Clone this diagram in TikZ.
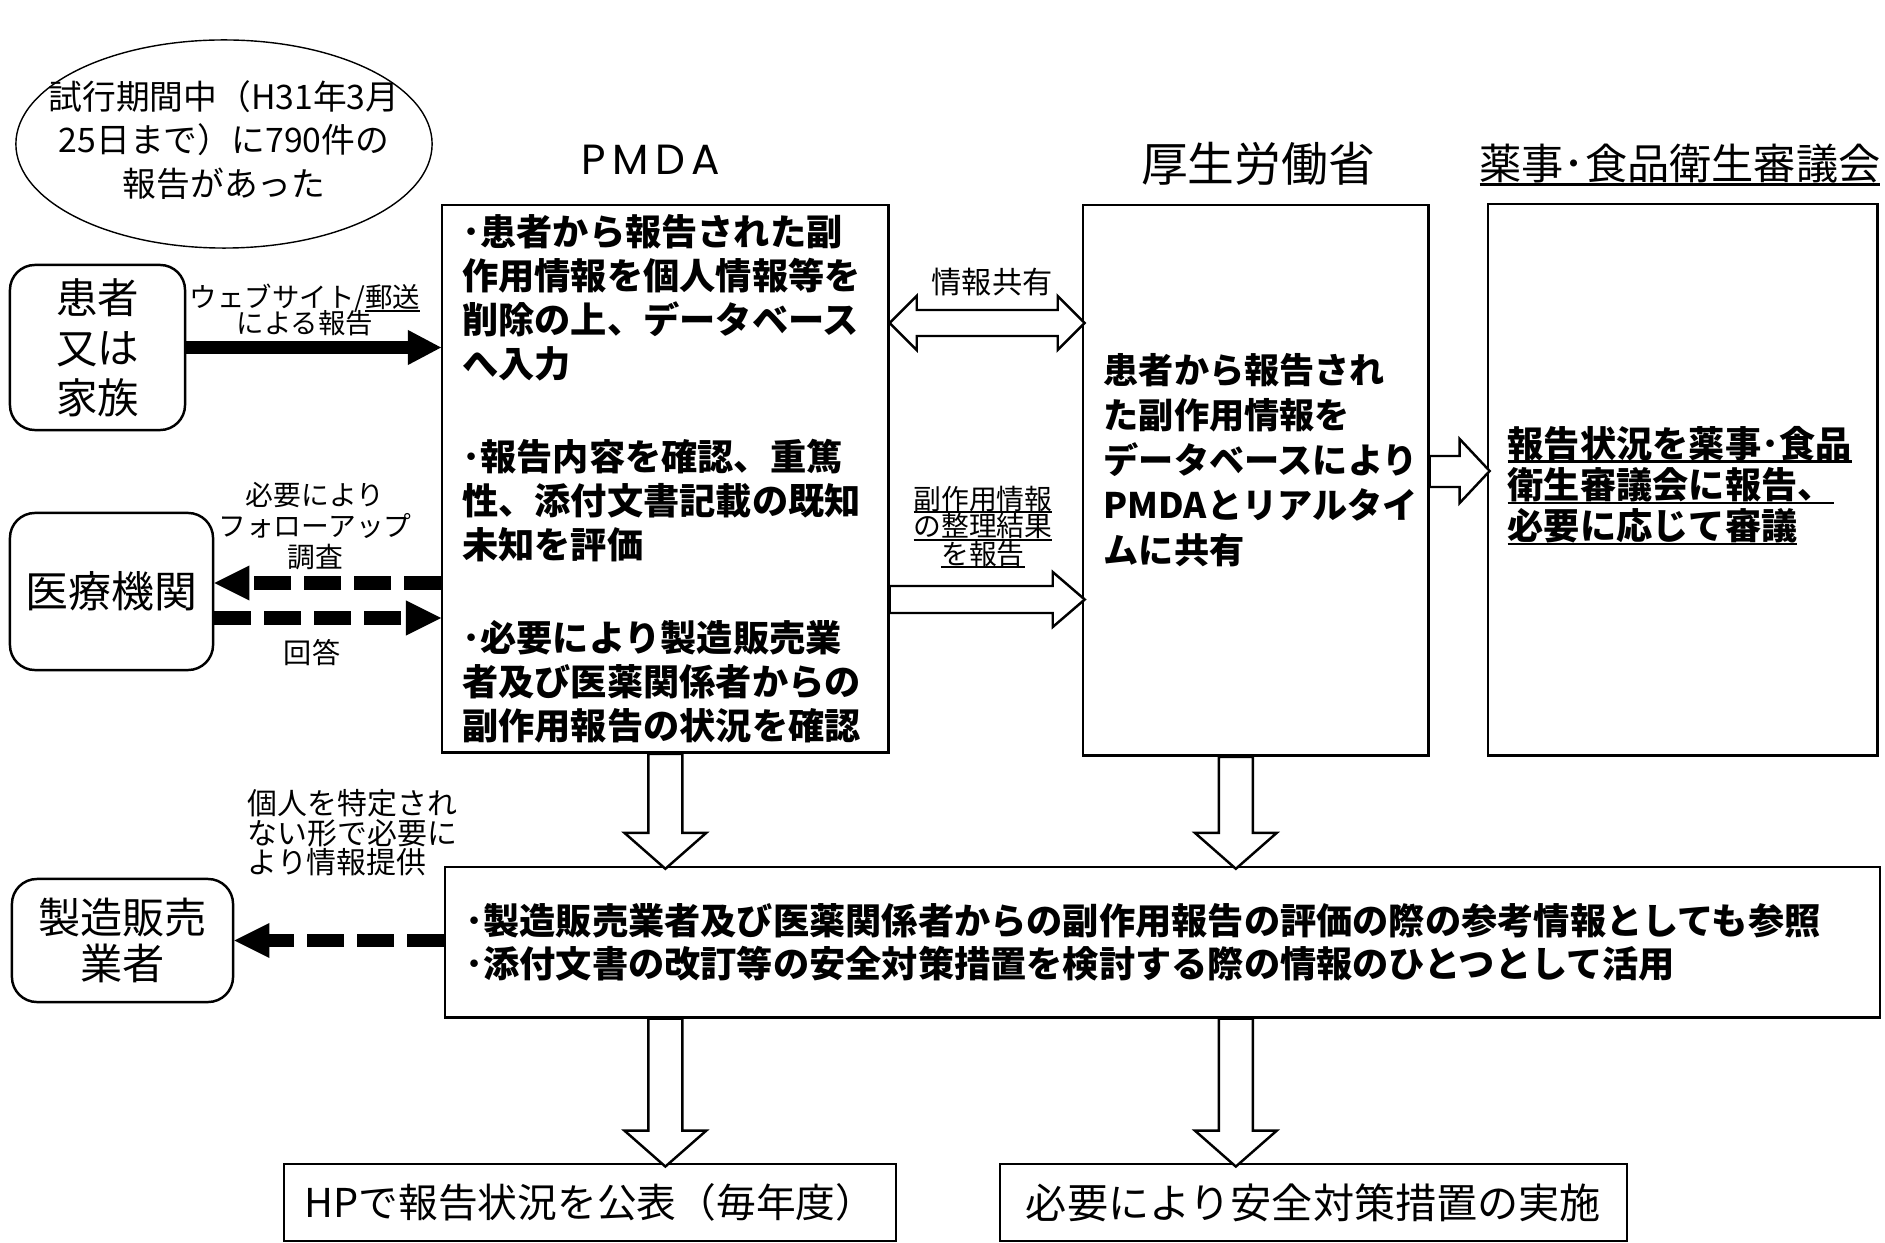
\documentclass[tikz,border=0pt]{standalone}
\usepackage{fontspec}
\setmainfont{Noto Sans CJK JP}
\newfontfamily\pmdafont{Poppins}[LetterSpace=15]
\usetikzlibrary{arrows.meta,calc}
\newcommand{\fs}[2]{\fontsize{#1pt}{#2pt}\selectfont\lineskiplimit=-20pt\relax}
\newcommand{\ul}[1]{\setbox0=\hbox{#1}\rlap{\vrule width\wd0 height -0.08em depth 0.15em}\box0}

\begin{document}
\begin{tikzpicture}[x=0.01cm,y=-0.01cm,
  box/.style={draw,line width=0.7pt,inner sep=0pt},
  party/.style={box,rounded corners=0.25cm,align=center,font=\fs{11.8}{13}},
  panel/.style={box,anchor=north west,inner xsep=0.2cm,align=left,font=\bfseries\fs{10.3}{12.5}},
  note/.style={inner sep=0pt,align=center,font=\fs{8.2}{7.3}},
  hollow/.style={draw,line width=0.7pt,fill=white},
  solidarrow/.style={line width=0.12cm,-{Triangle[length=0.33cm,width=0.35cm,line width=0pt]}},
  dasharrow/.style={line width=0.13cm,dash pattern=on 0.37cm off 0.13cm,-{Triangle[length=0.35cm,width=0.35cm,line width=0pt]}}]
\useasboundingbox (0,0) rectangle (1885,1243);

\node[note,font=\fs{9.6}{12.4}] (trial) at (224,140) {試行期間中（H31年3月\\25日まで）に790件の\\報告があった};
\draw[line width=0.4pt] (trial.center) ++(0,4) ellipse [x radius=2.08cm,y radius=1.04cm];

\node[font=\pmdafont\fs{12}{12}] (pmdatitle) at (651,160) {PMDA};
\node[font=\fs{13.3}{14}] (mhlwtitle) at (1258,164) {厚生労働省};
\node[font=\fs{12}{13}] (counciltitle) at (1680,165) {\ul{薬事･食品衛生審議会}};

\node[party,minimum width=1.75cm,minimum height=1.65cm,font=\fs{11.8}{14.2}] (patient) at (97.5,347.5) {患者\\又は\\家族};
\node[party,minimum width=2.03cm,minimum height=1.57cm,font=\fs{12.2}{13}] (inst) at (111.5,591.5) {医療機関};
\node[party,minimum width=2.21cm,minimum height=1.23cm,font=\fs{12}{13}] (maker) at (122.5,940.5) {製造販売\\業者};

\node[panel,text width=4.06cm,minimum height=5.47cm] (pmda) at (441,204) {･患者から報告された副\\作用情報を個人情報等を\\削除の上、データベース\\へ入力\\[14pt]
･報告内容を確認、重篤\\性、添付文書記載の既知\\未知を評価\\[14pt]
･必要により製造販売業\\者及び医薬関係者からの\\副作用報告の状況を確認};

\node[box,anchor=north west,minimum width=3.45cm,minimum height=5.5cm] (mhlw) at (1082,204) {};
\node[anchor=west,inner sep=0pt,align=left,font=\bfseries\fs{10}{12.8}] (mhlwtext) at ($(mhlw.west)+(21,-20)$) {患者から報告され\\た副作用情報を\\データベースにより\\PMDAとリアルタイ\\ムに共有};

\node[box,anchor=north west,minimum width=3.89cm,minimum height=5.51cm] (council) at (1487,203) {};
\node[anchor=west,inner sep=0pt,align=left,font=\bfseries\fs{10.3}{11.7}] (counciltext) at ($(council.west)+(20,6)$) {\ul{報告状況を薬事･食品}\\\ul{衛生審議会に報告、}\\\ul{必要に応じて審議}};

\node[panel,text width=13.94cm,minimum height=1.5cm,font=\bfseries\fs{10.3}{12}] (mid) at (444,866) {･製造販売業者及び医薬関係者からの副作用報告の評価の際の参考情報としても参照\\･添付文書の改訂等の安全対策措置を検討する際の情報のひとつとして活用};

\node[box,minimum width=6.12cm,minimum height=0.77cm,font=\fs{11.3}{12}] (hp) at (590,1202.5) {HPで報告状況を公表（毎年度）};
\node[box,minimum width=6.27cm,minimum height=0.77cm,font=\fs{11.7}{12}] (safety) at (1313.5,1202.5) {必要により安全対策措置の実施};

\coordinate (askrow) at (0,583);
\coordinate (answerrow) at (0,618);
\coordinate (sharerow) at (0,323);
\coordinate (sendrow) at (0,586);
\coordinate (councilrow) at (0,456);

\draw[solidarrow] (patient.east) -- (patient.east -| pmda.west);
\draw[dasharrow] (pmda.west |- askrow) -- (inst.east |- askrow);
\draw[dasharrow] (inst.east |- answerrow) -- (pmda.west |- answerrow);
\draw[dasharrow] (maker.east -| mid.west) -- (maker.east);

\draw[hollow] (pmda.east |- sharerow) -- ++(27,-27) -- ++(0,14) -- ++(141,0) -- ++(0,-14) -- ++(27,27) -- ++(-27,27) -- ++(0,-14) -- ++(-141,0) -- ++(0,14) -- cycle;
\draw[hollow] (pmda.east |- sendrow) -- ++(163,0) -- ++(0,-14) -- ++(32,27.5) -- ++(-32,27.5) -- ++(0,-14) -- ++(-163,0) -- cycle;
\draw[hollow] (mhlw.east |- councilrow) -- ++(30,0) -- ++(0,-17) -- ++(30,32) -- ++(-30,32) -- ++(0,-16) -- ++(-30,0) -- cycle;

\draw[hollow] ($(pmda.south)+(-17,0)$) -- ++(0,79) -- ++(-24,0) -- ++(41,36) -- ++(41,-36) -- ++(-24,0) -- ++(0,-79) -- cycle;
\draw[hollow] ($(mhlw.south)+(-37,0)$) -- ++(0,76) -- ++(-24,0) -- ++(41,36) -- ++(41,-36) -- ++(-24,0) -- ++(0,-76) -- cycle;
\draw[hollow] ($(mid.south -| pmda.south)+(-17,0)$) -- ++(0,112) -- ++(-24,0) -- ++(41,36) -- ++(41,-36) -- ++(-24,0) -- ++(0,-112) -- cycle;
\draw[hollow] ($(mid.south -| mhlw.south)+(-37,0)$) -- ++(0,112) -- ++(-24,0) -- ++(41,36) -- ++(41,-36) -- ++(-24,0) -- ++(0,-112) -- cycle;

\node[note,font=\fs{7.8}{7.3}] (weblabel) at (305,310) {ウェブサイト/\ul{郵送}\\による報告};
\node[note,font=\fs{8.6}{9}] (sharelabel) at (992,282) {情報共有};
\node[note,font=\fs{7.9}{7.8}] (sendlabel) at (983,527) {\ul{副作用情報}\\\ul{の整理結果}\\\ul{を報告}};
\node[note,font=\fs{7.9}{8.8}] (asklabel) at (315,526) {必要により\\フォローアップ\\調査};
\node[note,font=\fs{8}{8}] (answerlabel) at (312,653) {回答};
\node[note,anchor=west,align=left,font=\fs{8.5}{8.4}] (givelabel) at (247,833) {個人を特定され\\ない形で必要に\\より情報提供};
\end{tikzpicture}
\end{document}
